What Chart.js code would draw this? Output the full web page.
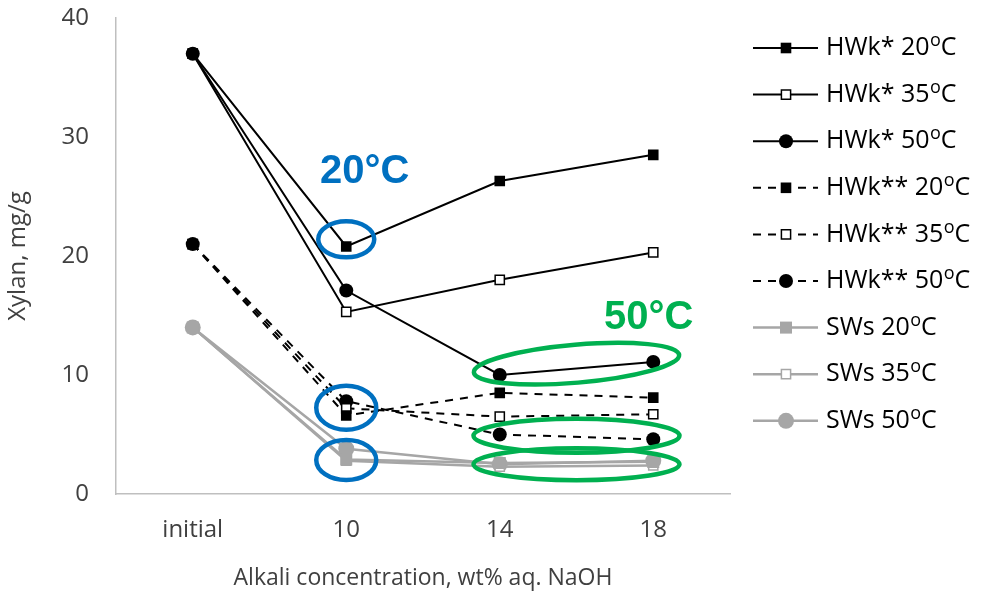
<!DOCTYPE html>
<html>
<head>
<meta charset="utf-8">
<script src="https://cdn.jsdelivr.net/npm/chart.js@4"></script>
<style>
html,body{margin:0;padding:0;background:#fff;}
#wrap{width:981px;height:596px;position:relative;}
</style>
</head>
<body>
<div id="wrap"><canvas id="c" width="981" height="596"></canvas></div>
<script>
// ---- data ----
const categories = ['initial', '10', '14', '18'];
const yTicks = [0, 10, 20, 30, 40];
const seriesNames = ['HWk* 20', 'HWk* 35', 'HWk* 50', 'HWk** 20', 'HWk** 35', 'HWk** 50', 'SWs 20', 'SWs 35', 'SWs 50'];
const hwk1_20 = [37.0, 20.8, 26.3, 28.5];
const hwk1_35 = [37.0, 15.3, 18.0, 20.3];
const hwk1_50 = [37.0, 17.1, 10.0, 11.1];
const hwk2_20 = [21.0, 6.6, 8.5, 8.1];
const hwk2_35 = [21.0, 7.2, 6.5, 6.7];
const hwk2_50 = [21.0, 7.8, 5.0, 4.6];
const sws_20 = [14.0, 2.9, 2.6, 2.7];
const sws_35 = [14.0, 2.8, 2.3, 2.4];
const sws_50 = [14.0, 3.8, 2.5, 2.8];
const annotLabels = ['20°C', '50°C'];

const BLACK = '#000000', GREY = '#A6A6A6', BLUE = '#0070C0', GREEN = '#00B050';
const FONT = '"Open Sans", Lato, sans-serif';
const TXT = '#404040';

function ds(label, data, color, dashed, style, filled, r) {
  return {
    label, data,
    borderColor: color, borderWidth: color === GREY ? 2.5 : 2,
    borderDash: dashed ? [8, 7] : [],
    pointStyle: style, pointRadius: r, pointHoverRadius: r,
    pointBackgroundColor: filled ? color : '#ffffff',
    pointBorderColor: color, pointBorderWidth: filled ? 0 : 1.5,
    fill: false, tension: 0
  };
}
const datasets = [
  ds(seriesNames[0], hwk1_20, BLACK, false, 'rect', true, 7.5),
  ds(seriesNames[1], hwk1_35, BLACK, false, 'rect', false, 6.5),
  ds(seriesNames[2], hwk1_50, BLACK, false, 'circle', true, 7),
  ds(seriesNames[3], hwk2_20, BLACK, true, 'rect', true, 7.5),
  ds(seriesNames[4], hwk2_35, BLACK, true, 'rect', false, 6.5),
  ds(seriesNames[5], hwk2_50, BLACK, true, 'circle', true, 7),
  ds(seriesNames[6], sws_20, GREY, false, 'rect', true, 8.5),
  ds(seriesNames[7], sws_35, GREY, false, 'rect', false, 6.5),
  ds(seriesNames[8], sws_50, GREY, false, 'circle', true, 8)
];

function drawTempText(ctx, x, y, base, size, color) {
  ctx.fillStyle = color;
  ctx.textBaseline = 'middle';
  ctx.textAlign = 'left';
  ctx.font = size + 'px ' + FONT;
  ctx.fillText(base, x, y);
  let w = ctx.measureText(base).width;
  ctx.font = Math.round(size * 0.72) + 'px ' + FONT;
  ctx.fillText('o', x + w + 0.5, y - size * 0.28);
  let w2 = ctx.measureText('o').width;
  ctx.font = size + 'px ' + FONT;
  ctx.fillText('C', x + w + w2 + 0.5, y);
}

const overlay = {
  id: 'overlay',
  afterDatasetsDraw(chart) {
    const ctx = chart.ctx, xs = chart.scales.x, ys = chart.scales.y;
    ctx.save();
    const ell = [
      [BLUE, 1, 21.4, 28, 18, 0],
      [BLUE, 1, 7.25, 30, 22, 0],
      [BLUE, 1, 2.85, 30, 20, 0],
      [GREEN, 2.5, 10.95, 103, 19, -0.085],
      [GREEN, 2.5, 4.9, 103, 17, 0],
      [GREEN, 2.5, 2.5, 103, 16, 0]
    ];
    ctx.lineWidth = 4.5;
    ell.forEach(e => {
      ctx.strokeStyle = e[0];
      ctx.beginPath();
      ctx.ellipse(xs.getPixelForValue(e[1]), ys.getPixelForValue(e[2]), e[3], e[4], e[5], 0, Math.PI * 2);
      ctx.stroke();
    });
    ctx.font = 'bold 40px "Liberation Sans", Arial, sans-serif';
    ctx.textAlign = 'center';
    ctx.textBaseline = 'middle';
    ctx.fillStyle = BLUE;
    ctx.fillText(annotLabels[0], xs.getPixelForValue(1.12), ys.getPixelForValue(27.1));
    ctx.fillStyle = GREEN;
    ctx.fillText(annotLabels[1], xs.getPixelForValue(2.97), ys.getPixelForValue(14.8));
    ctx.restore();
  },
  afterDraw(chart) {
    const ctx = chart.ctx;
    ctx.save();
    const x0 = chart.chartArea.right + 23;
    const items = chart.data.datasets;
    items.forEach((d, i) => {
      const y = 48 + i * 46.6;
      ctx.strokeStyle = d.borderColor;
      ctx.lineWidth = d.borderWidth;
      ctx.setLineDash(d.borderDash);
      ctx.beginPath();
      ctx.moveTo(x0, y); ctx.lineTo(x0 + 65, y);
      ctx.stroke();
      ctx.setLineDash([]);
      const style = {pointStyle: d.pointStyle, radius: d.pointRadius, borderWidth: d.pointBorderWidth, rotation: 0};
      ctx.fillStyle = d.pointBackgroundColor;
      ctx.strokeStyle = d.pointBorderColor;
      ctx.lineWidth = d.pointBorderWidth || 0;
      Chart.helpers.drawPoint(ctx, style, x0 + 33, y);
      drawTempText(ctx, x0 + 73, y, d.label, 25, '#000000');
    });
    ctx.restore();
  }
};

new Chart(document.getElementById('c'), {
  type: 'line',
  data: { labels: categories, datasets },
  options: {
    responsive: false,
    animation: false,
    devicePixelRatio: 1,
    layout: { padding: { left: 0, right: 251, top: 18, bottom: 0 } },
    plugins: { legend: { display: false }, tooltip: { enabled: false } },
    scales: {
      x: {
        offset: true,
        grid: { display: false, drawTicks: false },
        border: { color: '#BFBFBF', width: 1.5 },
        ticks: { color: TXT, font: { family: FONT, size: 24 }, padding: 22 },
        title: { display: true, text: 'Alkali concentration, wt% aq. NaOH', color: TXT, font: { family: FONT, size: 23 }, padding: { top: 8 } },
        afterFit(s) { s.height = 102; }
      },
      y: {
        min: 0, max: 40,
        afterBuildTicks(s) { s.ticks = yTicks.map(v => ({ value: v })); },
        grid: { display: false, drawTicks: false },
        border: { color: '#BFBFBF', width: 1.5 },
        ticks: { color: TXT, font: { family: FONT, size: 24 }, padding: 27 },
        title: { display: true, text: 'Xylan, mg/g', color: TXT, font: { family: FONT, size: 24 }, padding: { top: 4, bottom: 0 } },
        afterFit(s) { s.width = 116; s.paddingTop = 0; s.paddingBottom = 0; }
      }
    }
  },
  plugins: [overlay]
});
</script>
</body>
</html>
